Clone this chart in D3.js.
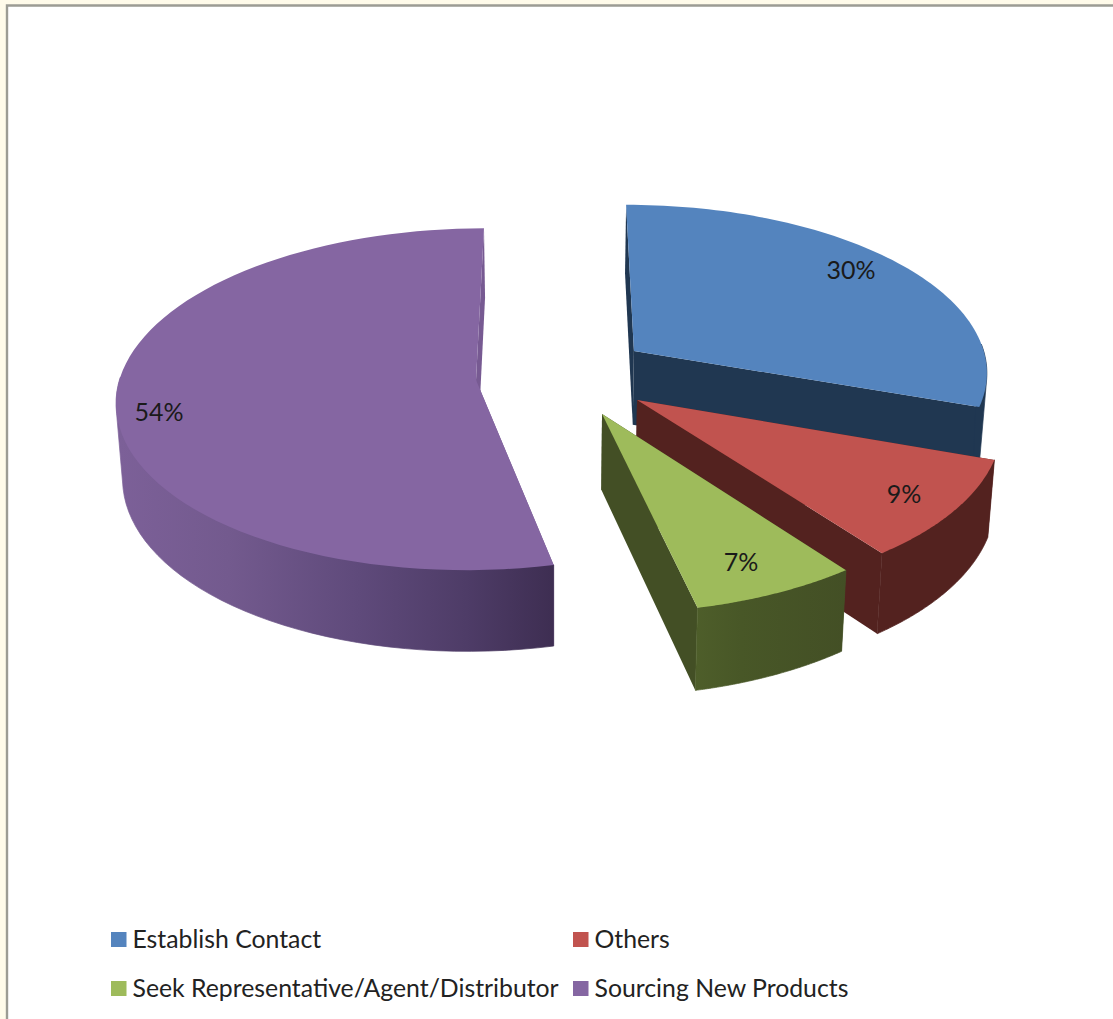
<!DOCTYPE html>
<html><head><meta charset="utf-8">
<script src="https://cdn.jsdelivr.net/npm/d3@7"></script>
<style>html,body{margin:0;padding:0;background:#fff;overflow:hidden}svg{display:block}text{font-family:Lato,"Open Sans",sans-serif}</style>
</head><body><svg id="c" width="1113" height="1019"></svg>
<script>
// data
const categories = ["Establish Contact","Others","Seek Representative/Agent/Distributor","Sourcing New Products"];
const shares = [30.4,9.45,6.65,53.5];
const labels = ["30%","9%","7%","54%"];
// style
const topColors = ["#5484BE","#C1534F","#9EBB5B","#8566A2"];
const wallColors = ["#203751","#53221F","#434F25","#775A92"];
// layout: each slice's explosion offset in the pie's plane
const explodeX = [81,81.5,46.3,-79.5];
const explodeY = [-40,9.9,23.6,-10];
const labelX = [851,904,741,159];
const labelY = [270,494,562,412];
const legendX = [111,573,111,573];
const legendY = [932,932,981,981];

const W=1113,H=1019, x0=555,y0=390, rx=359, ry=171, persp=0.00066, depth=75, shrink=0.015;
const svg=d3.select("#c");
const defs=svg.append("defs");
function grad(id,stops,x1,x2){
  const g=defs.append("linearGradient").attr("id",id).attr("gradientUnits","userSpaceOnUse")
    .attr("x1",x1).attr("x2",x2).attr("y1",0).attr("y2",0);
  stops.forEach(s=>g.append("stop").attr("offset",s[0]).attr("stop-color",s[1]));
}
grad("gPurple",[[0,"#7C6098"],[0.25,"#735A8E"],[0.55,"#5F4A7B"],[0.8,"#4E3C67"],[1,"#3E2E52"]],120,553);
grad("gGreen",[[0,"#4E5E2A"],[0.3,"#485727"],[1,"#434F25"]],695,848);
const wallFill=["#203751","#53221F","url(#gGreen)","url(#gPurple)"];

// frame
svg.append("rect").attr("width",W).attr("height",H).attr("fill","#FFFBEA");
svg.append("rect").attr("x",6).attr("y",5).attr("width",W).attr("height",H).attr("fill","#fff");
svg.append("path").attr("d",`M7,${H}V5.5H${W}`).attr("fill","none").attr("stroke","#9C9C94").attr("stroke-width",2.4);

const pie=d3.pie().sort(null).value(d=>d);
const arcs=pie(shares);
const project=(X,Y,z)=>{
  const s=1/(1-persp*Y), zs=1-shrink*z;
  return [x0+X*s*zs, y0+Y*s*zs+depth*z*s];
};
const line=d3.line();
const thetas=i=>{
  const a=arcs[i], t=d3.scaleLinear().domain([0,80]).range([a.startAngle,a.endAngle]);
  return d3.range(81).map(t);
};
const pt=(i,th,z)=>project(explodeX[i]+rx*Math.sin(th), explodeY[i]-ry*Math.cos(th), z);
const apex=(i,z)=>project(explodeX[i],explodeY[i],z);

const order=[3,0,1,2];
const g=svg.append("g");
order.forEach(i=>{
  const ths=thetas(i), n=ths.length-1;
  const topRim=ths.map(t=>pt(i,t,0));
  const front=ths.filter(t=>Math.cos(t)<0.05);
  const hull=d3.polygonHull(front.map(t=>pt(i,t,0)).concat(front.map(t=>pt(i,t,1))));
  const sl=g.append("g");
  // end faces
  sl.append("path").attr("d",line([apex(i,0),pt(i,ths[0],0),pt(i,ths[0],1),apex(i,1)])+"Z").attr("fill",wallColors[i]);
  sl.append("path").attr("d",line([apex(i,0),pt(i,ths[n],0),pt(i,ths[n],1),apex(i,1)])+"Z").attr("fill",wallColors[i]);
  // outer wall: hull of the front-facing rim, top and bottom
  sl.append("path").attr("d",line(hull)+"Z").attr("fill",wallFill[i]).attr("stroke",wallFill[i]).attr("stroke-width",0.7);
  // top
  sl.append("path").attr("d",line([apex(i,0)].concat(topRim))+"Z").attr("fill",topColors[i]);
});
// data labels
labels.forEach((t,i)=>{
  svg.append("text").attr("x",labelX[i]).attr("y",labelY[i]+8.5).attr("text-anchor","middle")
    .attr("font-size",25).attr("fill","#1a1a1a").text(t);
});
// legend
categories.forEach((c,i)=>{
  svg.append("rect").attr("x",legendX[i]).attr("y",legendY[i]).attr("width",15.5).attr("height",15).attr("fill",topColors[i]);
  svg.append("text").attr("x",legendX[i]+21.5).attr("y",legendY[i]+15.8).attr("font-size",24.8).attr("fill","#222").text(c);
});
</script></body></html>
